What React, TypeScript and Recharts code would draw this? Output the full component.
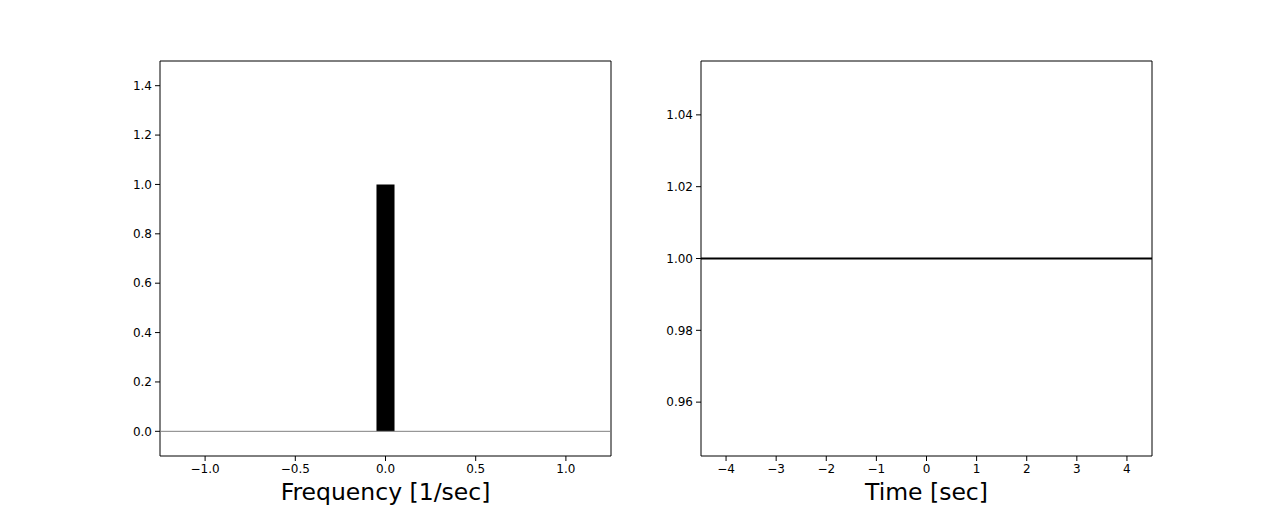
import { ComposedChart, Area, Line, XAxis, YAxis, ReferenceLine, ReferenceArea } from 'recharts'

// spectrum: a single rectangular bar centred on 0 Hz
const barEdges = [-0.05, 0.05]
const barHeights = [1, 1]
const freqTicks = [-1, -0.5, 0, 0.5, 1]
const ampTicks = [0, 0.2, 0.4, 0.6, 0.8, 1.0, 1.2, 1.4]

// time signal: constant
const times = [-4.5, 4.5]
const signal = [1, 1]
const timeTicks = [-4, -3, -2, -1, 0, 1, 2, 3, 4]
const sigTicks = [0.96, 0.98, 1.0, 1.02, 1.04]

const freqDomain: [number, number] = [-1.25, 1.25]
const ampDomain: [number, number] = [-0.1, 1.5]
const timeDomain: [number, number] = [-4.5, 4.5]
const sigDomain: [number, number] = [0.945, 1.055]

const spectrum = barEdges.map((f, i) => ({ f, a: barHeights[i] }))
const series = times.map((t, i) => ({ t, v: signal[i] }))

const FONT = 'DejaVu Sans, sans-serif'
const tickStyle = { fill: '#000', fontSize: 12, fontFamily: FONT }
const minus = (s: string) => s.replace('-', '\u2212')

export default function App() {
  return (
    <div style={{ position: 'absolute', left: 0, top: 0, width: 1280, height: 512, background: '#fff', fontFamily: FONT }}>
      <div style={{ position: 'absolute', left: 0, top: 0 }}>
        <ComposedChart width={640} height={512} data={spectrum} margin={{ top: 61, right: 29, left: 110, bottom: 0 }}>
          <XAxis
            dataKey="f"
            type="number"
            domain={freqDomain}
            allowDataOverflow
            ticks={freqTicks}
            tickFormatter={v => minus(Number(v).toFixed(1))}
            tick={tickStyle}
            tickLine={{ stroke: '#000' }}
            tickSize={5}
            tickMargin={3}
            axisLine={false}
            height={56}
            label={{ value: 'Frequency [1/sec]', position: 'insideBottom', offset: 12, fontSize: 23.5, fill: '#000', fontFamily: FONT }}
          />
          <YAxis
            type="number"
            domain={ampDomain}
            allowDataOverflow
            ticks={ampTicks}
            tickFormatter={v => minus(Number(v).toFixed(1))}
            tick={tickStyle}
            tickLine={{ stroke: '#000' }}
            tickSize={5}
            tickMargin={3}
            axisLine={false}
            width={50}
          />
          <ReferenceLine y={0} stroke="#808080" strokeWidth={1} />
          <Area
            dataKey="a"
            type="linear"
            baseValue={0}
            stroke="none"
            fill="#000"
            fillOpacity={1}
            dot={false}
            activeDot={false}
            isAnimationActive={false}
          />
          <ReferenceArea x1={freqDomain[0]} x2={freqDomain[1]} y1={ampDomain[0]} y2={ampDomain[1]} fill="none" stroke="#000" strokeWidth={1} />
        </ComposedChart>
      </div>
      <div style={{ position: 'absolute', left: 640, top: 0 }}>
        <ComposedChart width={640} height={512} data={series} margin={{ top: 61, right: 128, left: 11, bottom: 0 }}>
          <XAxis
            dataKey="t"
            type="number"
            domain={timeDomain}
            allowDataOverflow
            ticks={timeTicks}
            tickFormatter={v => minus(String(v))}
            tick={tickStyle}
            tickLine={{ stroke: '#000' }}
            tickSize={5}
            tickMargin={3}
            axisLine={false}
            height={56}
            label={{ value: 'Time [sec]', position: 'insideBottom', offset: 12, fontSize: 23.5, fill: '#000', fontFamily: FONT }}
          />
          <YAxis
            type="number"
            domain={sigDomain}
            allowDataOverflow
            ticks={sigTicks}
            tickFormatter={v => Number(v).toFixed(2)}
            tick={tickStyle}
            tickLine={{ stroke: '#000' }}
            tickSize={5}
            tickMargin={3}
            axisLine={false}
            width={50}
          />
          <Line dataKey="v" type="linear" stroke="#000" strokeWidth={2} dot={false} activeDot={false} isAnimationActive={false} />
          <ReferenceArea x1={timeDomain[0]} x2={timeDomain[1]} y1={sigDomain[0]} y2={sigDomain[1]} fill="none" stroke="#000" strokeWidth={1} />
        </ComposedChart>
      </div>
    </div>
  )
}
